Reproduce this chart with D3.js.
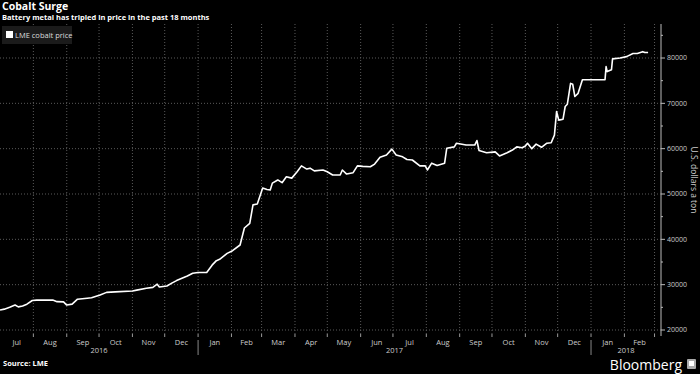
<!DOCTYPE html>
<html lang="en">
<head>
<meta charset="utf-8">
<title>Cobalt Surge</title>
<script src="https://cdn.jsdelivr.net/npm/d3@7"></script>
<style>
  body { margin: 0; background: #000; }
  svg { display: block; font-family: "Open Sans", "DejaVu Sans", sans-serif; }
</style>
</head>
<body>
<script>
// LME cobalt price, U.S. dollars a ton
var dates = ["2016-07-01","2016-07-05","2016-07-10","2016-07-15","2016-07-18","2016-07-22","2016-07-26","2016-07-31",
  "2016-08-04","2016-08-07","2016-08-19","2016-08-23","2016-08-29","2016-09-01","2016-09-06","2016-09-11","2016-09-20",
  "2016-09-24","2016-10-02","2016-10-08","2016-10-16","2016-11-01","2016-11-05","2016-11-14","2016-11-20","2016-11-24",
  "2016-11-26","2016-12-03","2016-12-08","2016-12-12","2016-12-17","2016-12-22","2016-12-27","2017-01-01","2017-01-09",
  "2017-01-14","2017-01-18","2017-01-21","2017-01-28","2017-02-02","2017-02-09","2017-02-13","2017-02-18","2017-02-21",
  "2017-02-25","2017-03-02","2017-03-06","2017-03-09","2017-03-11","2017-03-16","2017-03-20","2017-03-24","2017-03-29",
  "2017-04-03","2017-04-07","2017-04-12","2017-04-15","2017-04-19","2017-04-27","2017-05-01","2017-05-06","2017-05-13",
  "2017-05-15","2017-05-19","2017-05-25","2017-05-29","2017-06-03","2017-06-10","2017-06-14","2017-06-19","2017-06-25",
  "2017-06-30","2017-07-04","2017-07-10","2017-07-14","2017-07-19","2017-07-26","2017-07-31","2017-08-02","2017-08-06",
  "2017-08-11","2017-08-18","2017-08-20","2017-08-27","2017-08-29","2017-09-07","2017-09-15","2017-09-17","2017-09-19",
  "2017-09-26","2017-10-04","2017-10-08","2017-10-15","2017-10-20","2017-10-24","2017-10-29","2017-11-01","2017-11-03",
  "2017-11-07","2017-11-11","2017-11-16","2017-11-21","2017-11-25","2017-11-28","2017-11-30","2017-12-02","2017-12-06",
  "2017-12-08","2017-12-10","2017-12-13","2017-12-15","2017-12-17","2017-12-20","2017-12-24","2018-01-14","2018-01-15",
  "2018-01-16","2018-01-20","2018-01-21","2018-01-28","2018-02-03","2018-02-09","2018-02-13","2018-02-18","2018-02-20",
  "2018-02-23"];
var prices = [24400,24600,25000,25500,25100,25300,25700,26500,
  26600,26600,26600,26250,26200,25500,25700,26800,27000,
  27100,27700,28300,28400,28600,28800,29200,29400,30100,
  29500,29700,30400,30900,31400,31900,32500,32700,32700,
  34300,35300,35600,36900,37500,38750,42500,43500,47600,
  47800,51300,51000,50900,52400,53100,52500,53800,53500,
  54900,56200,55500,55700,55100,55300,54900,54200,54200,
  55300,54400,54700,56200,56100,56000,56600,58100,58600,
  59900,58600,58200,57600,57500,56200,56200,55300,56800,
  56300,56800,60100,60400,61200,60800,60800,61800,59600,
  59100,59300,58400,59100,59700,60400,60200,60600,61200,
  60000,61000,60300,61200,61300,63000,68200,66300,66500,
  69300,69800,74400,74200,71500,72200,75200,75200,78100,
  77000,77400,79800,80000,80300,81000,81000,81400,81200,
  81200];

var yTicks = [20000, 30000, 40000, 50000, 60000, 70000, 80000];
var monthLabels = ["Jul","Aug","Sep","Oct","Nov","Dec","Jan","Feb","Mar","Apr","May","Jun",
  "Jul","Aug","Sep","Oct","Nov","Dec","Jan","Feb"];
var years = ["2016", "2017", "2018"];

var w = 700, h = 374;
var parse = d3.timeParse("%Y-%m-%d");
var data = dates.map(function(d, i) { return { date: parse(d), value: prices[i] }; });

var plotTop = 24, plotBottom = 334, plotRight = 661;

var x = d3.scaleTime()
  .domain([new Date(2016, 6, 1), new Date(2018, 2, 7)])
  .range([0, plotRight]);
var y = d3.scaleLinear()
  .domain([20000, 80000])
  .range([330, 58]);

var svg = d3.select("body").append("svg")
  .attr("width", w)
  .attr("height", h);

svg.append("rect").attr("width", w).attr("height", h).attr("fill", "#000");

// month boundaries
var monthStarts = d3.timeMonth.range(new Date(2016, 6, 1), new Date(2018, 2, 2));

// grid
svg.append("g").selectAll("line")
  .data(monthStarts.slice(1))
  .enter().append("line")
  .attr("x1", function(d) { return x(d); })
  .attr("x2", function(d) { return x(d); })
  .attr("y1", plotTop)
  .attr("y2", plotBottom)
  .attr("stroke", "#5a5a5a")
  .attr("stroke-width", 1)
  .attr("stroke-dasharray", "1,2");

svg.append("g").selectAll("line")
  .data(yTicks)
  .enter().append("line")
  .attr("x1", 0)
  .attr("x2", plotRight)
  .attr("y1", function(d) { return y(d); })
  .attr("y2", function(d) { return y(d); })
  .attr("stroke", "#5a5a5a")
  .attr("stroke-width", 1)
  .attr("stroke-dasharray", "1,2");

// right y axis
var yAxis = svg.append("g").attr("transform", "translate(" + plotRight + ",0)");
yAxis.append("line")
  .attr("y1", plotTop).attr("y2", plotBottom + 2)
  .attr("stroke", "#bbb");
yAxis.selectAll(".minor")
  .data(d3.range(15000, 90000, 5000).filter(function(v) { return y(v) > plotTop && y(v) < plotBottom; }))
  .enter().append("line")
  .attr("x1", 0)
  .attr("x2", function(d) { return d % 10000 === 0 ? 4 : 2; })
  .attr("y1", function(d) { return y(d); })
  .attr("y2", function(d) { return y(d); })
  .attr("stroke", "#bbb");
yAxis.selectAll("text")
  .data(yTicks)
  .enter().append("text")
  .attr("x", 6)
  .attr("y", function(d) { return y(d); })
  .attr("dy", "0.35em")
  .attr("font-size", "7px")
  .attr("fill", "#ccc")
  .text(function(d) { return d; });

svg.append("text")
  .attr("transform", "translate(691,180) rotate(90)")
  .attr("text-anchor", "middle")
  .attr("font-size", "8.5px")
  .attr("fill", "#ccc")
  .text("U.S. dollars a ton");

// x axis ticks and labels
svg.append("g").selectAll("line")
  .data(monthStarts.slice(1))
  .enter().append("line")
  .attr("x1", function(d) { return x(d); })
  .attr("x2", function(d) { return x(d); })
  .attr("y1", plotBottom)
  .attr("y2", plotBottom + 3)
  .attr("stroke", "#999");

svg.append("g").selectAll("text")
  .data(monthStarts.slice(0, monthLabels.length))
  .enter().append("text")
  .attr("x", function(d) { return (x(d) + x(d3.timeMonth.offset(d, 1))) / 2; })
  .attr("y", 345)
  .attr("text-anchor", "middle")
  .attr("font-size", "7.5px")
  .attr("fill", "#ccc")
  .text(function(d, i) { return monthLabels[i]; });

var yearSpans = [[new Date(2016, 6, 1), new Date(2017, 0, 1)],
                 [new Date(2017, 0, 1), new Date(2018, 0, 1)],
                 [new Date(2018, 0, 1), x.domain()[1]]];
svg.append("g").selectAll("text")
  .data(yearSpans)
  .enter().append("text")
  .attr("x", function(d) { return (x(d[0]) + x(d[1])) / 2; })
  .attr("y", 353)
  .attr("text-anchor", "middle")
  .attr("font-size", "7.5px")
  .attr("fill", "#ccc")
  .text(function(d, i) { return years[i]; });

svg.append("g").selectAll("line")
  .data([new Date(2017, 0, 1), new Date(2018, 0, 1)])
  .enter().append("line")
  .attr("x1", function(d) { return x(d); })
  .attr("x2", function(d) { return x(d); })
  .attr("y1", 340)
  .attr("y2", 355)
  .attr("stroke", "#888");

// price line
var line = d3.line()
  .x(function(d) { return x(d.date); })
  .y(function(d) { return y(d.value); });

svg.append("path")
  .datum(data)
  .attr("d", line)
  .attr("fill", "none")
  .attr("stroke", "#fff")
  .attr("stroke-width", 1.6)
  .attr("stroke-linejoin", "round");

// legend
svg.append("rect").attr("x", 2).attr("y", 26).attr("width", 70).attr("height", 18).attr("fill", "#1b1b1b");
svg.append("rect").attr("x", 6).attr("y", 31).attr("width", 7).attr("height", 7).attr("fill", "#fff");
svg.append("text").attr("x", 15).attr("y", 38).attr("font-size", "7.5px").attr("fill", "#ddd").text("LME cobalt price");

// titles
svg.append("text").attr("x", 2).attr("y", 10)
  .attr("font-size", "10.5px").attr("font-weight", "bold").attr("fill", "#fff")
  .text("Cobalt Surge");
svg.append("text").attr("x", 2).attr("y", 20)
  .attr("font-size", "7.5px").attr("font-weight", "bold").attr("fill", "#fff")
  .text("Battery metal has tripled in price in the past 18 months");
svg.append("text").attr("x", 3).attr("y", 366)
  .attr("font-size", "7.5px").attr("font-weight", "bold").attr("fill", "#fff")
  .text("Source: LME");

// Bloomberg mark
svg.append("text").attr("x", 682).attr("y", 370)
  .attr("text-anchor", "end")
  .attr("font-size", "14px").attr("fill", "#fff")
  .text("Bloomberg");
svg.append("rect").attr("x", 687).attr("y", 359).attr("width", 9).attr("height", 10).attr("rx", 1).attr("fill", "#aaa");
svg.append("rect").attr("x", 689).attr("y", 361).attr("width", 5).attr("height", 5).attr("fill", "#fff");
</script>
</body>
</html>
